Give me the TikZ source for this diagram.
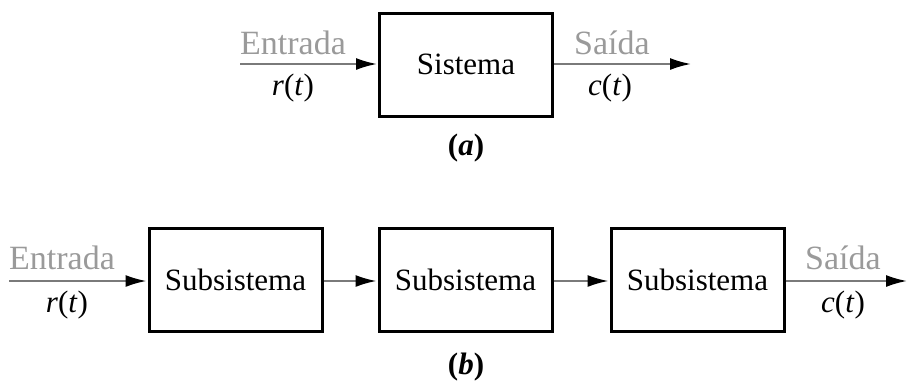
\documentclass[tikz,border=0pt]{standalone}
\usepackage{fontspec}
\setmainfont{Liberation Serif}
\usetikzlibrary{arrows.meta}
\definecolor{linegray}{HTML}{7A7A7A}
\definecolor{textgray}{HTML}{9A9A9A}
\tikzset{
  blockbox/.style={draw=black, line width=3pt, minimum width=173pt, minimum height=103pt, inner sep=0pt, font=\fontsize{31}{36}\selectfont},
  sigline/.style={draw=linegray, line width=2pt, -{Latex[length=21pt,width=12pt,fill=black,color=black]}, shorten >=1pt},
  graylbl/.style={text=textgray, font=\fontsize{34}{38}\selectfont, inner sep=0pt},
  mathlbl/.style={font=\fontsize{31}{36}\selectfont, inner sep=0pt},
  caplbl/.style={font=\fontsize{31}{36}\selectfont\bfseries, inner sep=0pt}
}
\begin{document}
\begin{tikzpicture}[x=1pt,y=-1pt]
\useasboundingbox (0,0) rectangle (910,381);
% (a)
\node[blockbox] (sys) at (466,64.5) {Sistema};
\coordinate (ain) at (240,64);
\coordinate (aout) at (692,64);
\draw[sigline] (ain) -- (sys.west |- ain);
\draw[sigline] (sys.east |- aout) -- (aout);
\node[graylbl] (aent) at (293,43) {Entrada};
\node[mathlbl] (ar) at (293,88) {\textit{r}(\textit{t})};
\node[graylbl] (asai) at (612,43) {Saída};
\node[mathlbl] (ac) at (610,88) {\textit{c}(\textit{t})};
\node[caplbl] (acap) at (466,148) {(\textit{a})};
% (b)
\node[blockbox] (b1) at (235.5,279.5) {Subsistema};
\node[blockbox] (b2) at (465.5,279.5) {Subsistema};
\node[blockbox] (b3) at (697.5,279.5) {Subsistema};
\coordinate (bin) at (9,281);
\coordinate (bout) at (908,281);
\draw[sigline] (bin) -- (b1.west |- bin);
\draw[sigline] (b1.east |- bin) -- (b2.west |- bin);
\draw[sigline] (b2.east |- bin) -- (b3.west |- bin);
\draw[sigline] (b3.east |- bout) -- (bout);
\node[graylbl] (bent) at (62,258) {Entrada};
\node[mathlbl] (br) at (67,305) {\textit{r}(\textit{t})};
\node[graylbl] (bsai) at (843,258) {Saída};
\node[mathlbl] (bc) at (843,305) {\textit{c}(\textit{t})};
\node[caplbl] (bcap) at (466,367) {(\textit{b})};
\end{tikzpicture}
\end{document}
